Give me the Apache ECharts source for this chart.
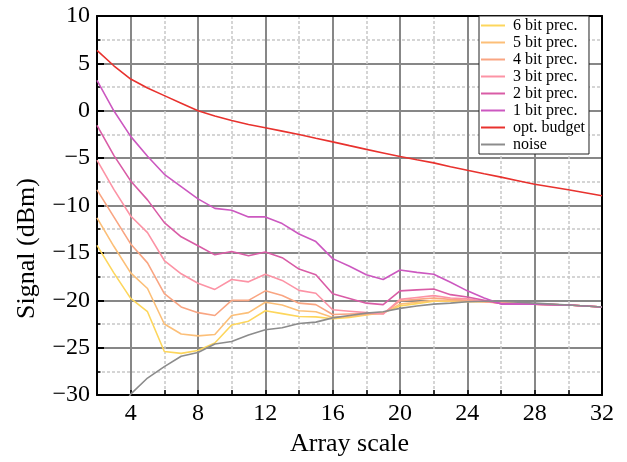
<!DOCTYPE html>
<html>
<head>
<meta charset="utf-8">
<script src="https://cdn.jsdelivr.net/npm/echarts@6/dist/echarts.min.js"></script>
<style>html,body{margin:0;padding:0;background:#fff}#c{width:627px;height:462px}</style>
</head>
<body>
<div id="c"></div>
<script>
const xValues = [2,3,4,5,6,7,8,9,10,11,12,13,14,15,16,17,18,19,20,21,22,23,24,25,26,27,28,29,30,31,32];
const bit6 = [-14.2,-17.1,-19.8,-21.2,-25.4,-25.6,-25.3,-24.5,-22.6,-22.2,-21.1,-21.4,-21.7,-21.75,-21.95,-21.8,-21.55,-21.3,-20.6,-20.35,-20.1,-20.1,-20.15,-20.15,-20.25,-20.35,-20.4,-20.45,-20.5,-20.6,-20.7];
const bit5 = [-11.3,-14.3,-17.1,-18.75,-22.5,-23.55,-23.75,-23.6,-21.6,-21.3,-20.2,-20.5,-21.1,-21.2,-21.8,-21.7,-21.5,-21.35,-20.4,-20.2,-20.0,-20.05,-20.1,-20.15,-20.25,-20.35,-20.4,-20.45,-20.5,-20.6,-20.7];
const bit4 = [-8.35,-11.2,-14.05,-16.05,-19.3,-20.7,-21.3,-21.6,-20.0,-20.0,-19.0,-19.5,-20.3,-20.45,-21.5,-21.45,-21.4,-21.4,-20.05,-19.9,-19.75,-19.9,-20.0,-20.15,-20.3,-20.35,-20.4,-20.45,-20.5,-20.6,-20.7];
const bit3 = [-5.2,-8.3,-11.1,-12.85,-15.8,-17.2,-18.2,-18.85,-17.8,-18.05,-17.25,-17.9,-18.95,-19.25,-21.0,-21.15,-21.3,-21.45,-19.9,-19.7,-19.5,-19.75,-19.85,-20.1,-20.3,-20.4,-20.4,-20.45,-20.5,-20.6,-20.7];
const bit2 = [-1.55,-4.7,-7.4,-9.4,-11.8,-13.3,-14.25,-15.2,-14.85,-15.3,-14.9,-15.5,-16.7,-17.3,-19.3,-19.8,-20.3,-20.45,-19.0,-18.9,-18.8,-19.4,-19.65,-20.0,-20.35,-20.4,-20.4,-20.45,-20.5,-20.6,-20.7];
const bit1 = [3.2,0.0,-2.7,-4.8,-6.7,-8.0,-9.3,-10.3,-10.5,-11.2,-11.2,-11.9,-13.0,-13.8,-15.6,-16.4,-17.3,-17.8,-16.8,-17.05,-17.25,-18.1,-19.0,-19.75,-20.4,-20.4,-20.4,-20.45,-20.5,-20.6,-20.7];
const optBudget = [6.37,4.75,3.35,2.4,1.6,0.8,0.0,-0.55,-1.03,-1.45,-1.8,-2.15,-2.5,-2.9,-3.28,-3.68,-4.07,-4.45,-4.83,-5.17,-5.5,-5.9,-6.28,-6.65,-7.0,-7.38,-7.76,-8.05,-8.34,-8.65,-8.97];
const noise = [null,-33,-29.9,-28.2,-27.0,-25.9,-25.5,-24.6,-24.35,-23.65,-23.1,-22.9,-22.45,-22.3,-21.85,-21.6,-21.35,-21.2,-20.85,-20.6,-20.4,-20.3,-20.15,-20.1,-20.1,-20.2,-20.3,-20.4,-20.5,-20.6,-20.7];

const seriesNames = ['6 bit prec.','5 bit prec.','4 bit prec.','3 bit prec.','2 bit prec.','1 bit prec.','opt. budget','noise'];
const seriesValues = [bit6, bit5, bit4, bit3, bit2, bit1, optBudget, noise];
const seriesColors = ['#fdd65c','#fcbf78','#f9a582','#fc93a5','#d95ca6','#cc58c0','#e8322e','#8c8c8c'];

const FONT = "'Liberation Serif','DejaVu Serif',serif";
const minus = v => String(v).replace('-', '\u2212');

const chart = echarts.init(document.getElementById('c'), null, {renderer: 'canvas'});
chart.setOption({
  animation: false,
  backgroundColor: '#fff',
  grid: {left: 97, right: 25, top: 16, bottom: 63, containLabel: false},
  legend: {
    orient: 'vertical', left: 479, top: 16,
    backgroundColor: '#fff', borderColor: '#222', borderWidth: 1,
    padding: [1, 4, 1, 2],
    icon: 'rect', itemWidth: 24, itemHeight: 2, itemGap: 0,
    textStyle: {fontFamily: FONT, fontSize: 16, lineHeight: 17, color: '#000', padding: [0,0,0,3]},
    data: seriesNames
  },
  xAxis: [{
    type: 'value', min: 2, max: 32, interval: 2, position: 'bottom',
    name: 'Array scale', nameLocation: 'middle', nameGap: 29,
    nameTextStyle: {fontFamily: FONT, fontSize: 26, color: '#000'},
    axisLine: {show: true, onZero: false, lineStyle: {color: '#000', width: 2}},
    axisTick: {show: true, inside: true, length: 5, lineStyle: {color: '#000', width: 1.5}},
    axisLabel: {fontFamily: FONT, fontSize: 24, color: '#000', margin: 7,
      formatter: v => (v % 4 === 0 ? String(v) : '')},
    splitLine: {show: true, lineStyle: {color: ['#c8c8c8', 'rgba(0,0,0,0)'], width: 1.5, type: [3, 2]}}
  }, {
    type: 'value', min: 2, max: 32, interval: 2, position: 'top',
    axisLine: {show: true, onZero: false, lineStyle: {color: '#000', width: 2}},
    axisTick: {show: false}, axisLabel: {show: false},
    splitLine: {show: true, lineStyle: {color: ['rgba(0,0,0,0)', '#878787'], width: 2}}
  }],
  yAxis: [{
    type: 'value', min: -30, max: 10, interval: 5, position: 'left',
    name: 'Signal (dBm)', nameLocation: 'middle', nameGap: 57, nameRotate: 90,
    nameTextStyle: {fontFamily: FONT, fontSize: 26, color: '#000', padding: [0, 86, 0, 0]},
    axisLine: {show: true, onZero: false, lineStyle: {color: '#000', width: 2}},
    axisTick: {show: true, inside: true, length: 7, lineStyle: {color: '#000', width: 2}},
    minorTick: {show: true, splitNumber: 2, length: 3.5, lineStyle: {color: '#000', width: 1.5}},
    axisLabel: {fontFamily: FONT, fontSize: 24, color: '#000', margin: 7, formatter: minus},
    splitLine: {show: true, lineStyle: {color: '#878787', width: 2}},
    minorSplitLine: {show: true, lineStyle: {color: '#c8c8c8', width: 1.5, type: [3, 2]}}
  }, {
    type: 'value', min: -30, max: 10, interval: 5, position: 'right',
    axisLine: {show: true, onZero: false, lineStyle: {color: '#000', width: 2}},
    axisTick: {show: false}, axisLabel: {show: false}, splitLine: {show: false}
  }],
  series: seriesNames.map((name, i) => ({
    name: name, type: 'line', xAxisIndex: 0, yAxisIndex: 0,
    symbol: 'none', clip: true, connectNulls: false,
    lineStyle: {color: seriesColors[i], width: 1.6},
    itemStyle: {color: seriesColors[i]},
    data: xValues.map((x, j) => [x, seriesValues[i][j]])
  }))
});
</script>
</body>
</html>
